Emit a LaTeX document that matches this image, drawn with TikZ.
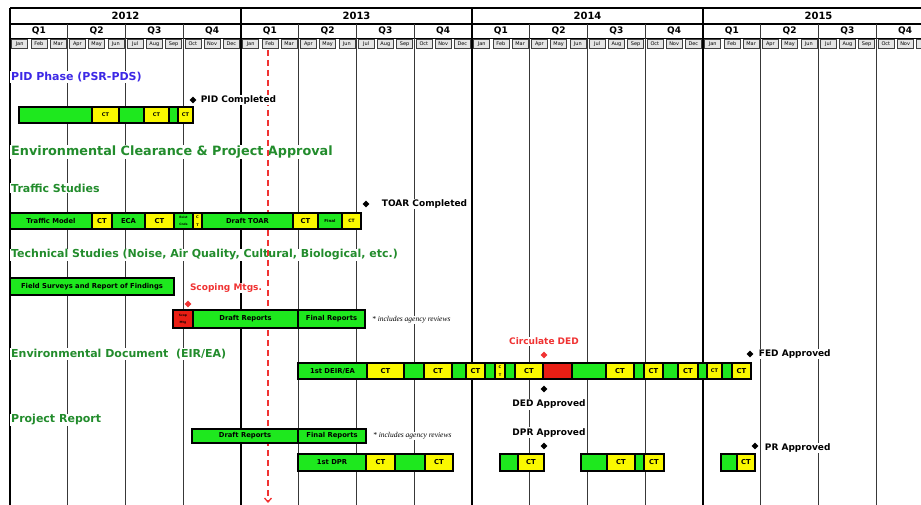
\documentclass[tikz,border=0pt]{standalone}
\usepackage{fontspec}
\setmainfont{DejaVu Sans}
\newfontfamily\notefont{Liberation Serif}
\usetikzlibrary{positioning,shapes.geometric,arrows.meta}
\definecolor{barG}{RGB}{30,232,30}
\definecolor{barY}{RGB}{250,248,0}
\definecolor{barR}{RGB}{232,30,20}
\definecolor{headG}{RGB}{34,140,44}
\definecolor{headB}{RGB}{60,40,230}
\definecolor{markR}{RGB}{240,50,50}
\tikzset{
	seg/.style={draw=black, line width=1.2pt},
	segtext/.style={font=\bfseries\fontsize{6.8}{7.5}\selectfont, inner sep=0pt, align=center},
	mbox/.style={draw=black!75, fill=black!10, line width=0.6pt, minimum width=16pt, minimum height=9pt, inner sep=0pt, font=\fontsize{5}{5.5}\selectfont},
	head/.style={anchor=west, fill=white, inner sep=1pt, text=headG, font=\bfseries\fontsize{11}{13}\selectfont},
	mstone/.style={diamond, fill=black, inner sep=0pt, minimum size=7pt},
	mslabel/.style={fill=white, inner sep=1pt, font=\bfseries\fontsize{9}{10}\selectfont},
	note/.style={anchor=west, fill=white, inner sep=1pt, font=\notefont\itshape\fontsize{7.5}{8}\selectfont},
}
% one box of a bar: (x0,y0)(x1,y1)[fill]{text}
\def\seg(#1,#2)(#3,#4)[#5]#6{\draw[seg, fill=#5] (#1,#2) rectangle (#3,#4); \node[segtext] (s#1x#2) at ({(#1+#3)/2},{(#2+#4)/2}) {#6};}
% very small text inside narrow boxes
\def\tn{\fontsize{3}{3.4}\selectfont}
\def\tc{\fontsize{3.6}{4}\selectfont}

\begin{document}
\begin{tikzpicture}[x=1pt, y=-1pt]
		%%%%% START %%%%%
		\useasboundingbox (0,0) rectangle (921,505);
		\clip (0,0) rectangle (921,505);
		
		% header
		\draw[line width=1.6pt] (10,8) -- (921,8);
		\draw[line width=1.2pt] (10,24) -- (921,24);
		\draw[line width=1.2pt] (10,38.5) -- (921,38.5);
		\foreach \yr [count=\i from 0] in {2012,2013,2014,2015}
			\node[font=\bfseries\fontsize{10}{12}\selectfont] (yr\yr) at ({10+231*\i+115.5},16) {\yr};
		\foreach \yr in {0,...,3}
			\foreach \q in {1,...,4}
				\node[font=\bfseries\fontsize{9}{10}\selectfont] (q\yr-\q) at ({10+231*\yr+57.75*(\q-0.5)},31) {Q\q};
		\foreach \yr in {0,...,3}
			\foreach \m [count=\i from 0] in {Jan,Feb,Mar,Apr,May,Jun,Jul,Aug,Sep,Oct,Nov}
				\node[mbox] (m\yr-\i) at ({10+231*\yr+19.25*\i+9.625},43.75) {\m};
		\foreach \yr in {0,...,2}
			\node[mbox] (m\yr-11) at ({10+231*\yr+19.25*11+9.625},43.75) {Dec};
		\draw[draw=black!75, fill=black!10, line width=0.6pt] (916.5,39.25) rectangle (925,48.25);
		
		% grid
		\foreach \q in {1,...,15}
			\draw[line width=1.3pt, color=black!78] ({10+57.75*\q},24) -- ({10+57.75*\q},505);
		\foreach \q in {0,4,8,12}
			\draw[line width=2pt] ({10+57.75*\q},8) -- ({10+57.75*\q},505);
		
		% headings
		\node[head, text=headB] (pidhead) at (10,77) {PID Phase (PSR-PDS)};
		\node[head, font=\bfseries\fontsize{12.8}{14}\selectfont] (ecahead) at (10,152) {Environmental Clearance \& Project Approval};
		\node[head] (traffichead) at (10,188) {Traffic Studies};
		\node[head] (techhead) at (10,255) {Technical Studies (Noise, Air Quality, Cultural, Biological, etc.)};
		\node[head] (envhead) at (10,354) {Environmental Document\ \ (EIR/EA)};
		\node[head] (prhead) at (10,420) {Project Report};
		
		% status date
		\coordinate (nowtop) at (268,50);
		\coordinate (nowbot) at (268,503);
		\draw[line width=1.3pt, color=markR, dash pattern=on 6pt off 4pt, -{Straight Barb[length=4pt,width=7pt]}] (nowtop) -- (nowbot);
		
		% PID
		\seg(19,107)(92,123)[barG]{}
		\seg(92,107)(119,123)[barY]{\fontsize{5}{6}\selectfont CT}
		\seg(119,107)(144,123)[barG]{}
		\seg(144,107)(169,123)[barY]{\fontsize{5}{6}\selectfont CT}
		\seg(169,107)(178,123)[barG]{}
		\seg(178,107)(193,123)[barY]{\fontsize{5}{6}\selectfont CT}
		
		% traffic
		\seg(10,213)(92,229)[barG]{Traffic Model}
		\seg(92,213)(112,229)[barY]{CT}
		\seg(112,213)(145,229)[barG]{ECA}
		\seg(145,213)(174,229)[barY]{CT}
		\seg(174,213)(193,229)[barG]{\tn Exist\\\tn Cnds}
		\seg(193,213)(202,229)[barY]{\tc C\\\tc T}
		\seg(202,213)(293,229)[barG]{Draft TOAR}
		\seg(293,213)(318,229)[barY]{CT}
		\seg(318,213)(342,229)[barG]{\fontsize{4}{5}\selectfont Final}
		\seg(342,213)(361,229)[barY]{\fontsize{4.5}{5}\selectfont CT}
		
		% technical
		\seg(10,278)(174,295)[barG]{Field Surveys and Report of Findings}
		\seg(173,310)(193,328)[barR]{\tn Scop\\\tn Mtg}
		\seg(193,310)(298,328)[barG]{Draft Reports}
		\seg(298,310)(365,328)[barG]{Final Reports}
		\node[note] (technote) at (371,320) {* includes agency reviews};
		
		% EIR/EA
		\seg(298,363)(367,379)[barG]{1st DEIR/EA}
		\seg(367,363)(404,379)[barY]{CT}
		\seg(404,363)(424,379)[barG]{}
		\seg(424,363)(452,379)[barY]{CT}
		\seg(452,363)(466,379)[barG]{}
		\seg(466,363)(485,379)[barY]{CT}
		\seg(485,363)(495,379)[barG]{}
		\seg(495,363)(505,379)[barY]{\tc C\\\tc T}
		\seg(505,363)(515,379)[barG]{}
		\seg(515,363)(543,379)[barY]{CT}
		\seg(543,363)(572,379)[barR]{}
		\seg(572,363)(606,379)[barG]{}
		\seg(606,363)(634,379)[barY]{CT}
		\seg(634,363)(644,379)[barG]{}
		\seg(644,363)(663,379)[barY]{CT}
		\seg(663,363)(678,379)[barG]{}
		\seg(678,363)(698,379)[barY]{CT}
		\seg(698,363)(707,379)[barG]{}
		\seg(707,363)(722,379)[barY]{\fontsize{5}{6}\selectfont CT}
		\seg(722,363)(732,379)[barG]{}
		\seg(732,363)(751,379)[barY]{CT}
		
		% project report
		\seg(192,429)(298,443)[barG]{Draft Reports}
		\seg(298,429)(366,443)[barG]{Final Reports}
		\node[note] (prnote) at (372,436) {* includes agency reviews};
		\seg(298,454)(366,471)[barG]{1st DPR}
		\seg(366,454)(395,471)[barY]{CT}
		\seg(395,454)(425,471)[barG]{}
		\seg(425,454)(453,471)[barY]{CT}
		\seg(500,454)(518,471)[barG]{}
		\seg(518,454)(544,471)[barY]{CT}
		\seg(581,454)(607,471)[barG]{}
		\seg(607,454)(635,471)[barY]{CT}
		\seg(635,454)(644,471)[barG]{}
		\seg(644,454)(664,471)[barY]{CT}
		\seg(721,454)(737,471)[barG]{}
		\seg(737,454)(755,471)[barY]{CT}
		
		% milestones
		\node[mstone] (pidms) at (193,100) {};
		\node[mslabel, right=3pt of pidms] (pidlbl) {PID Completed};
		\node[mstone] (toarms) at (366,204) {};
		\node[mslabel, right=11pt of toarms] (toarlbl) {TOAR Completed};
		\node[mstone, fill=markR] (scopms) at (188,304) {};
		\node[mslabel, text=markR] (scoplbl) at (226,288) {Scoping Mtgs.};
		\node[mstone, fill=markR] (circms) at (544,355) {};
		\node[mslabel, text=markR, above=5pt of circms] (circlbl) {Circulate DED};
		\node[mstone] (fedms) at (750,354) {};
		\node[mslabel, right=4pt of fedms] (fedlbl) {FED Approved};
		\node[mstone] (dedms) at (544,389) {};
		\node[mslabel, below=6pt of dedms, xshift=5pt] (dedlbl) {DED Approved};
		\node[mstone] (dprms) at (544,446) {};
		\node[mslabel, above=4pt of dprms, xshift=5pt] (dprlbl) {DPR Approved};
		\node[mstone] (prms) at (755,446) {};
		\node[mslabel, right=5pt of prms, yshift=-2pt] (prlbl) {PR Approved};
		
		%%%%% END %%%%%
\end{tikzpicture}
\end{document}
